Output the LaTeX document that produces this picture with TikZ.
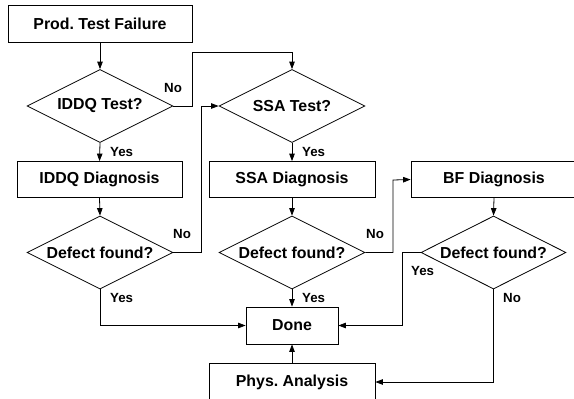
\documentclass[tikz,border=0pt]{standalone}
\usepackage{fontspec}
\setmainfont{Liberation Sans}
\usetikzlibrary{shapes.geometric,arrows.meta}
\begin{document}
\frenchspacing
\begin{tikzpicture}[x=1pt,y=-1pt,
  every node/.style={font=\fontsize{15.9}{18}\selectfont\bfseries},
  conn/.style={line width=0.8pt},
  arr/.style={conn,-{Triangle[length=7.5pt,width=5.5pt]}},
  box/.style={draw,line width=0.8pt,inner sep=0pt,minimum height=36pt},
  dia/.style={draw,diamond,line width=0.8pt,inner sep=0pt,minimum width=146pt,minimum height=73pt},
  lab/.style={font=\fontsize{13.3}{15}\selectfont\bfseries,anchor=west,inner sep=0pt}]
\clip (0,0) rectangle (574,399);
\fill[white] (0,0) rectangle (574,399);
\node[box,minimum width=184pt,minimum height=37pt] (pt) at (100,23.5) {Prod.\ Test Failure};
\node[dia] (d1) at (100,106) {\makebox[0pt]{IDDQ Test?}};
\node[dia] (d2) at (292,106) {\makebox[0pt]{SSA Test?}};
\node[box,minimum width=165pt] (b1) at (99.5,179.5) {IDDQ Diagnosis};
\node[box,minimum width=166pt] (b2) at (292,179.5) {SSA Diagnosis};
\node[box,minimum width=166pt] (b3) at (494,179.5) {BF Diagnosis};
\node[dia] (d3) at (100,252.5) {\makebox[0pt]{Defect found?}};
\node[dia] (d4) at (292,252.5) {\makebox[0pt]{Defect found?}};
\node[dia,minimum width=145pt] (d5) at (493.5,252.5) {\makebox[0pt]{Defect found?}};
\node[box,minimum width=92pt,minimum height=37pt] (done) at (292,325.5) {Done};
\node[box,minimum width=166pt,minimum height=38pt] (phys) at (292,382) {Phys.\ Analysis};
\coordinate (n1) at (192,52);
\coordinate (n2) at (201,106);
\coordinate (n3) at (393,180);
\coordinate (n4) at (402,252.5);
\draw[arr] (pt.south) -- (d1.north);
\draw[arr] (d1.south) -- (b1.north);
\draw[arr] (d2.south) -- (b2.north);
\draw[arr] (d1.east) -| (n1) -| (d2.north);
\draw[arr] (b1.south) -- (d3.north);
\draw[arr] (b2.south) -- (d4.north);
\draw[arr] (b3.south) -- (d5.north);
\draw[arr] (d3.east) -| (n2) -- (d2.west);
\draw[arr] (d4.east) -| (n3) -- (b3.west);
\draw[arr] (d3.south) |- (done.west);
\draw[arr] (d4.south) -- (done.north);
\draw[arr] (d5.west) -- (n4) |- (done.east);
\draw[arr] (d5.south) |- (phys.east);
\draw[arr] (phys.north) -- (done.south);
\node[lab] (l1) at (164,88) {No};
\node[lab] (l2) at (110,152) {Yes};
\node[lab] (l3) at (302,152) {Yes};
\node[lab] (l4) at (173,234) {No};
\node[lab] (l5) at (366,234) {No};
\node[lab] (l6) at (110,298) {Yes};
\node[lab] (l7) at (302,298) {Yes};
\node[lab] (l8) at (411,271) {Yes};
\node[lab] (l9) at (503,298) {No};
\end{tikzpicture}
\end{document}
